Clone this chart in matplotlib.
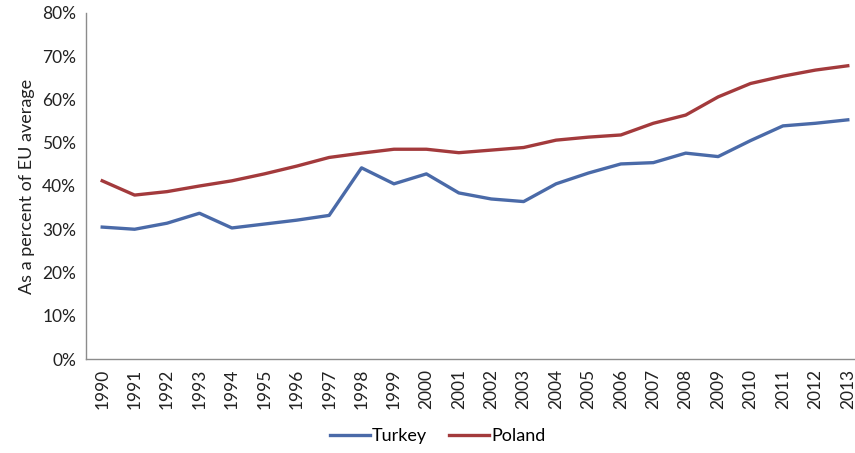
import numpy as np
import matplotlib.pyplot as plt
from matplotlib.ticker import PercentFormatter

years = [str(y) for y in range(1990, 2014)]

turkey = [30.5, 30.0, 31.4, 33.7, 30.3, 31.2, 32.1, 33.2, 44.2, 40.5, 42.8, 38.4,
          37.0, 36.4, 40.5, 43.0, 45.1, 45.4, 47.6, 46.8, 50.5, 53.9, 54.5, 55.3]
poland = [41.2, 37.9, 38.7, 40.0, 41.2, 42.8, 44.6, 46.6, 47.6, 48.5, 48.5, 47.7,
          48.3, 48.9, 50.6, 51.3, 51.8, 54.5, 56.4, 60.6, 63.7, 65.4, 66.8, 67.8]

plt.rcParams["font.family"] = ["Lato", "DejaVu Sans"]

fig = plt.figure(figsize=(8.55, 4.53), dpi=100)
ax = fig.add_axes([86/855, 94/453, 778/855, 346/453])

x = np.arange(len(years))
ax.plot(x, turkey, color="#4a6aa8", lw=2.4, label="Turkey")
ax.plot(x, poland, color="#a33a3c", lw=2.4, label="Poland")

ax.set_xlim(-0.5, len(years) - 0.5)
ax.set_ylim(0, 80)
ax.set_yticks(np.arange(0, 81, 10))
ax.yaxis.set_major_formatter(PercentFormatter(decimals=0))
ax.set_xticks(x)
ax.set_xticklabels(years, rotation=90)
ax.tick_params(length=0, labelsize=12.5, colors="#222222")
ax.tick_params(axis="x", pad=7)
ax.tick_params(axis="y", pad=7)

for s in ["top", "right"]:
    ax.spines[s].set_visible(False)
for s in ["left", "bottom"]:
    ax.spines[s].set_color("#8c8c8c")
    ax.spines[s].set_linewidth(1.0)

ax.set_ylabel("As a percent of EU average", fontsize=13, color="#222222", labelpad=5)

fig.legend(loc="center", bbox_to_anchor=(0.512, 17/453), ncol=2, frameon=False,
           fontsize=13, handlelength=2.2, columnspacing=1.2, handletextpad=0.15)

fig.savefig("out.png", dpi=100)
